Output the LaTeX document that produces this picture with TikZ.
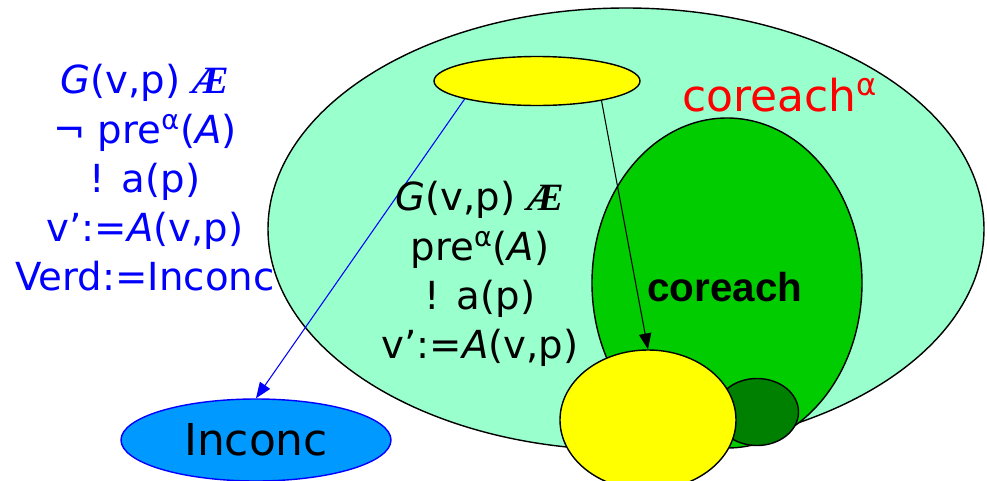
\documentclass[tikz,border=0pt]{standalone}
\usepackage{fontspec}
\setmainfont{DejaVu Sans}
\newfontfamily\aefont{Liberation Serif}
\newfontfamily\arialfont{Liberation Sans}
\usetikzlibrary{arrows.meta,shapes.geometric}
\definecolor{mint}{RGB}{153,255,204}
\definecolor{midgreen}{RGB}{0,204,0}
\definecolor{darkgreen}{RGB}{0,128,0}
\definecolor{skyblue}{RGB}{0,153,255}
\definecolor{yel}{RGB}{255,255,0}
\newcommand{\aesym}{{\aefont\bfseries\itshape Æ}}
\newcommand{\alp}{\textsuperscript{α}}

\begin{document}
\begin{tikzpicture}[>={Triangle[length=9pt,width=7pt]},
    blob/.style={ellipse,draw,thick,inner sep=0pt},
    txt/.style={align=center,font=\fontsize{22}{28}\selectfont}]
  \useasboundingbox (0,0) rectangle (19.74,9.6);
  \begin{scope}
  \clip (0,0) rectangle (19.74,9.6);
  \node[blob,fill=mint,minimum width=14.32cm,minimum height=8.84cm] (reach) at (12.52,5.02) {};
  \node[blob,fill=yel,minimum width=4.12cm,minimum height=0.98cm] (ytop) at (10.74,7.98) {};
  \node[blob,fill=midgreen,minimum width=5.4cm,minimum height=6.6cm] (core) at (14.54,3.94) {};
  \node[blob,fill=darkgreen,minimum width=1.66cm,minimum height=1.34cm] (dark) at (15.14,1.36) {};
  \node[blob,fill=yel,minimum width=3.52cm,minimum height=2.8cm] (ybot) at (12.96,1.2) {};
  \node[blob,draw=blue,fill=skyblue,minimum width=5.4cm,minimum height=1.64cm] (inconc) at (5.12,0.8) {};
  \end{scope}
  \node[font=\fontsize{25}{30}\selectfont] at (inconc) {Inconc};
  % transitions
  \draw[->,semithick,blue] (ytop.-166) -- (inconc.north);
  \draw[->,semithick] (ytop.-17.5) -- (ybot.north);
  % labels
  \node[txt,text=blue] (lefttxt) at (2.9,6.04)
    {\textit{G}(v,p) \aesym\\ ¬ pre\alp(\textit{A})\\ ! a(p)\\ v’:=\textit{A}(v,p)\\ Verd:=Inconc};
  \node[txt] (midtxt) at (9.6,4.12)
    {\textit{G}(v,p) \aesym\\ pre\alp(\textit{A})\\ ! a(p)\\ v’:=\textit{A}(v,p)};
  \node[text=red,font=\fontsize{25}{30}\selectfont] (coreachalpha) at (15.6,7.7) {coreach\alp};
  \node[font=\fontsize{23}{28}\arialfont\bfseries] (coreach) at (14.5,3.86) {coreach};
\end{tikzpicture}
\end{document}
